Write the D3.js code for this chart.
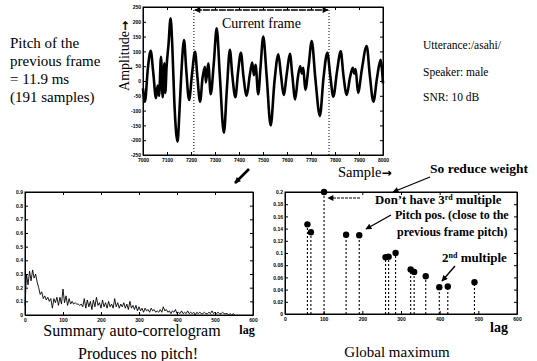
<!DOCTYPE html>
<html>
<head>
<meta charset="utf-8">
<script src="https://cdn.jsdelivr.net/npm/d3@7"></script>
<style>
body { margin: 0; background: #fff; }
svg text { font-family: "Liberation Serif", "Times New Roman", serif; fill: #000; }
.tk text { font-family: "Liberation Sans", Arial, sans-serif; font-size: 5px; font-weight: bold; }
.tk path, .tk line { stroke: #000; }
.arr { font-family: "DejaVu Sans", sans-serif; font-weight: bold; }
</style>
</head>
<body>
<svg id="fig" width="537" height="361"></svg>
<script>
// waveform key points (sample, amplitude)
const wfSample = [7000, 7008, 7020, 7032, 7043, 7054, 7061, 7067, 7075, 7082, 7089, 7093, 7098, 7106, 7115, 7122,
  7130, 7144, 7152, 7160, 7171, 7180, 7192, 7205, 7217, 7226, 7238, 7248, 7258, 7262, 7272, 7282, 7295, 7307,
  7320, 7337, 7350, 7362, 7372, 7385, 7396, 7408, 7418, 7432, 7445, 7455, 7462, 7469, 7480, 7490, 7501, 7515,
  7532, 7548, 7564, 7575, 7586, 7600, 7612, 7622, 7634, 7645, 7655, 7662, 7668, 7676, 7690, 7703, 7718, 7737,
  7752, 7768, 7780, 7793, 7808, 7824, 7835, 7849, 7862, 7874, 7880, 7886, 7896, 7912, 7932, 7945, 7960, 7975,
  7990, 8000];
const wfAmp = [-25, -70, 40, 102, 26, -58, -15, -50, 82, -55, 60, -40, 45, 120, 212, 120,
  -60, -205, -100, 30, 138, 40, -64, 30, 99, 20, -70, 10, 48, -5, 60, -45, 60, 178,
  20, -175, -20, 105, 20, -55, 30, 95, 20, -50, 20, 62, 20, 55, -45, 50, 150, 20,
  -150, 0, 90, 20, -47, 30, 92, 20, -62, 10, 50, 25, 45, -30, 50, 135, 10, -118,
  10, 95, 20, -53, 30, 100, 20, -47, 10, 45, 25, 40, -40, 40, 118, 20, -70, 10,
  72, -8];
const frameStart = 7212, frameEnd = 7775;
const wfXTicks = [7000, 7100, 7200, 7300, 7400, 7500, 7600, 7700, 7800, 7900, 8000];
const wfYTicks = [-250, -200, -150, -100, -50, 0, 50, 100, 150, 200, 250];

// summary auto-correlogram, one value every acStep lags
const acStep = 4;
const acValues = [0.07, 0.30, 0.22, 0.32, 0.25, 0.33, 0.27, 0.30, 0.24, 0.20, 0.15, 0.17, 0.12, 0.14, 0.11, 0.13,
  0.10, 0.12, 0.05, 0.12, 0.09, 0.13, 0.07, 0.13, 0.08, 0.19, 0.09, 0.14, 0.07, 0.12, 0.08, 0.10,
  0.08, 0.09, 0.08, 0.08, 0.07, 0.08, 0.06, 0.12, 0.05, 0.11, 0.06, 0.10, 0.04, 0.11, 0.06, 0.13,
  0.07, 0.09, 0.05, 0.11, 0.06, 0.09, 0.05, 0.10, 0.06, 0.08, 0.05, 0.12, 0.06, 0.09, 0.05, 0.08,
  0.06, 0.09, 0.05, 0.08, 0.04, 0.10, 0.05, 0.07, 0.04, 0.07, 0.03, 0.06, 0.03, 0.05, 0.02, 0.05,
  0.03, 0.04, 0.02, 0.05, 0.03, 0.04, 0.02, 0.03, 0.02, 0.04, 0.02, 0.06, 0.03, 0.04, 0.02, 0.03,
  0.01, 0.03, 0.02, 0.04, 0.01, 0.02, 0.01, 0.03, 0.01, 0.02, 0.01, 0.03, 0.01, 0.02, 0.01, 0.02,
  0.00, 0.02, 0.01, 0.02, 0.01, 0.01, 0.02, 0.01, 0.01, 0.02, 0.01, 0.03, 0.01, 0.02, 0.01, 0.02,
  0.01, 0.01, 0.02, 0.01, 0.01, 0.01, 0.00, 0.01, 0.00, 0.01, 0.00];
const acYTicks = [0, 0.1, 0.2, 0.3, 0.4, 0.5, 0.6, 0.7, 0.8, 0.9];
const lagTicks = [0, 100, 200, 300, 400, 500, 600];

// peak candidates (stem plot)
const pkLag = [58, 67, 101, 158, 192, 260, 268, 286, 325, 334, 364, 399, 421, 490];
const pkVal = [0.147, 0.134, 0.2, 0.13, 0.129, 0.093, 0.094, 0.1, 0.073, 0.069, 0.062, 0.044, 0.045, 0.052];
const pkYTicks = [0, 0.02, 0.04, 0.06, 0.08, 0.1, 0.12, 0.14, 0.16, 0.18, 0.2];

const svg = d3.select("#fig");

const defs = svg.append("defs");
defs.append("marker").attr("id", "ah").attr("viewBox", "0 0 10 10")
  .attr("refX", 9).attr("refY", 5).attr("markerWidth", 7).attr("markerHeight", 6)
  .attr("orient", "auto-start-reverse").attr("markerUnits", "userSpaceOnUse")
  .append("path").attr("d", "M0,0L10,5L0,10z").attr("fill", "#000");

const plain = d => String(+(+d).toFixed(2));

function frame(x, y, xt, yt) {
  const [x0, x1] = x.range(), [y0, y1] = y.range();
  svg.append("g").attr("class", "tk").attr("transform", `translate(0,${y0})`)
    .call(d3.axisBottom(x).tickValues(xt).tickFormat(plain).tickSizeInner(-3).tickSizeOuter(0).tickPadding(3));
  svg.append("g").attr("class", "tk").attr("transform", `translate(${x0},0)`)
    .call(d3.axisLeft(y).tickValues(yt).tickFormat(plain).tickSizeInner(-3).tickSizeOuter(0).tickPadding(2));
  svg.append("g").attr("class", "tk").attr("transform", `translate(0,${y1})`)
    .call(d3.axisTop(x).tickValues(xt).tickFormat("").tickSizeInner(-3).tickSizeOuter(0));
  svg.append("g").attr("class", "tk").attr("transform", `translate(${x1},0)`)
    .call(d3.axisRight(y).tickValues(yt).tickFormat("").tickSizeInner(-3).tickSizeOuter(0));
  svg.append("rect").attr("x", x0).attr("y", y1).attr("width", x1 - x0).attr("height", y0 - y1)
    .attr("fill", "none").attr("stroke", "#000").attr("stroke-width", 1);
}

function arrow(x1, y1, x2, y2, w, dash) {
  svg.append("line").attr("x1", x1).attr("y1", y1).attr("x2", x2).attr("y2", y2)
    .attr("stroke", "#000").attr("stroke-width", w || 1.3)
    .attr("stroke-dasharray", dash || null)
    .attr("marker-end", "url(#ah)");
}

function txt(x, y, s, size, anchor, bold) {
  return svg.append("text").attr("x", x).attr("y", y).attr("font-size", size)
    .attr("text-anchor", anchor || "start").attr("font-weight", bold ? "bold" : null).text(s);
}

// ---- top: waveform ----
const xw = d3.scaleLinear().domain([7000, 8000]).range([143, 383]);
const yw = d3.scaleLinear().domain([-250, 250]).range([155, 7]);
frame(xw, yw, wfXTicks, wfYTicks);

const wline = d3.line().x(i => xw(wfSample[i])).y(i => yw(wfAmp[i])).curve(d3.curveMonotoneX);
svg.append("path").attr("d", wline(d3.range(wfSample.length)))
  .attr("fill", "none").attr("stroke", "#000").attr("stroke-width", 2.6).attr("stroke-linejoin", "round");

[frameStart, frameEnd].forEach(s => {
  svg.append("line").attr("x1", xw(s)).attr("x2", xw(s)).attr("y1", yw(250)).attr("y2", yw(-250))
    .attr("stroke", "#000").attr("stroke-width", 1).attr("stroke-dasharray", "1,2");
});
svg.append("line").attr("x1", xw(frameStart) + 1).attr("x2", xw(frameEnd) - 1)
  .attr("y1", 10).attr("y2", 10).attr("stroke", "#000").attr("stroke-width", 1.6)
  .attr("stroke-dasharray", "7,1")
  .attr("marker-start", "url(#ah)").attr("marker-end", "url(#ah)");
txt((xw(frameStart) + xw(frameEnd)) / 2, 28, "Current frame", 14, "middle");

const amp = svg.append("text").attr("transform", "translate(129,56) rotate(-90)")
  .attr("text-anchor", "middle").attr("font-size", 14).text("Amplitude");
amp.append("tspan").attr("class", "arr").attr("font-size", 12).text("\u2192");
const smp = txt(338, 177, "Sample", 14.5);
smp.append("tspan").attr("class", "arr").attr("font-size", 12).text("\u2192");

txt(10, 48, "Pitch of the", 15);
txt(10, 66, "previous frame", 15);
txt(10, 84, "= 11.9 ms", 15);
txt(10, 102, "(191 samples)", 15);

txt(423, 49, "Utterance:/asahi/", 11.5);
txt(423, 76, "Speaker: male", 11.5);
txt(423, 101, "SNR: 10 dB", 11.5);

arrow(249, 169, 235, 183, 2.6);

// ---- bottom left: summary auto-correlogram ----
const xa = d3.scaleLinear().domain([0, 600]).range([25, 253]);
const ya = d3.scaleLinear().domain([0, 0.9]).range([315, 192]);
frame(xa, ya, lagTicks, acYTicks);
const aline = d3.line().x((d, i) => xa(i * acStep)).y(d => ya(d));
svg.append("path").attr("d", aline(acValues))
  .attr("fill", "none").attr("stroke", "#000").attr("stroke-width", 0.9);

txt(132, 336, "Summary auto-correlogram", 16, "middle");
txt(247, 334, "lag", 12, "middle", true);
txt(138, 359, "Produces no pitch!", 16, "middle");

// ---- bottom right: peak candidates ----
const xp = d3.scaleLinear().domain([0, 600]).range([285, 517]);
const yp = d3.scaleLinear().domain([0, 0.2]).range([314, 192]);
frame(xp, yp, lagTicks, pkYTicks);

const stems = svg.append("g");
pkLag.forEach((l, i) => {
  stems.append("line").attr("x1", xp(l)).attr("x2", xp(l)).attr("y1", yp(0)).attr("y2", yp(pkVal[i]))
    .attr("stroke", "#000").attr("stroke-width", 1.1).attr("stroke-dasharray", "2,2");
  stems.append("circle").attr("cx", xp(l)).attr("cy", yp(pkVal[i])).attr("r", 3.2).attr("fill", "#000");
});

txt(499, 332, "lag", 14, "middle", true);
txt(397, 357, "Global maximum", 15, "middle");

txt(479, 173, "So reduce weight", 13.5, "middle", true);
arrow(430, 177, 393, 192, 1.3);

const t1 = txt(375, 204, "Don\u2019t have 3", 12.8, "start", true);
t1.append("tspan").attr("dy", -4).attr("font-size", 8).text("rd");
t1.append("tspan").attr("dy", 4).text(" multiple");
arrow(360, 198, 328, 198, 1.2, "3,1");

txt(395, 219, "Pitch pos. (close to the", 12, "start", true);
txt(397, 236, "previous frame pitch)", 12, "start", true);
arrow(391, 215, 366, 229, 1.4);

const t2 = txt(442, 262, "2", 13, "start", true);
t2.append("tspan").attr("dy", -4).attr("font-size", 8).text("nd");
t2.append("tspan").attr("dy", 4).text(" multiple");
arrow(455, 266, 442, 281, 1.4);
</script>
</body>
</html>
